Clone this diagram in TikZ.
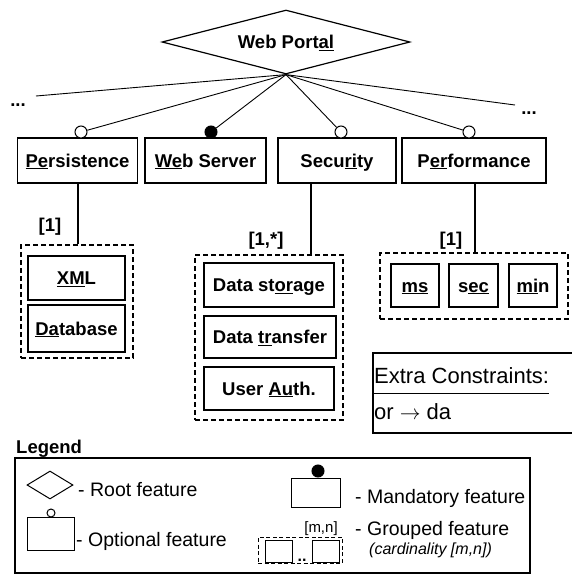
\documentclass[tikz,border=0pt]{standalone}
\usepackage{fontspec}
\setmainfont{Liberation Sans}
\usetikzlibrary{shapes.geometric,calc}
\newcommand\bfnt{\fontsize{18.5}{22}\selectfont\bfseries}
\newcommand\cfnt{\fontsize{22}{26}\selectfont}
\newcommand\lfnt{\fontsize{19.5}{23}\selectfont}
\newcommand\sfnt{\fontsize{15}{18}\selectfont}
\newcommand\ifnt{\fontsize{16}{19}\selectfont\itshape}
\begin{document}
\begin{tikzpicture}[x=1pt,y=-1pt,
  feat/.style={draw, line width=1.3pt, inner sep=0pt, font=\bfnt, text height=13.2pt, text depth=0pt},
  grp/.style={draw, dash pattern=on 5pt off 3pt, line width=1.2pt, inner sep=0pt},
  opt/.style={circle, draw, fill=white, line width=1pt, minimum size=12pt, inner sep=0pt},
  man/.style={circle, draw, fill=black, line width=1pt, minimum size=12pt, inner sep=0pt},
  fan/.style={line width=0.9pt},
  lbl/.style={font=\bfnt, inner sep=0pt, anchor=base},
  lgbox/.style={draw, line width=1pt, inner sep=0pt},
  ltxt/.style={font=\lfnt, anchor=base west, inner sep=0pt}]
\useasboundingbox (0,0) rectangle (572,574);
\clip (0,0) rectangle (572,574);
% root
\node[diamond, aspect=3.875, draw, line width=1.2pt, minimum width=248pt, minimum height=64pt, inner sep=0pt, font=\bfnt, text height=13.2pt, text depth=0pt] (root) at (286,42) {Web Port\underline{al}};
% features
\node[feat, minimum width=120pt, minimum height=45pt] (per) at (77.5,160.5) {\underline{Pe}rsistence};
\node[feat, minimum width=121pt, minimum height=45pt] (ws) at (205.5,160.5) {\underline{We}b Server};
\node[feat, minimum width=118pt, minimum height=45pt] (sec) at (337,160.5) {Secu\underline{ri}ty};
\node[feat, minimum width=144pt, minimum height=45pt] (perf) at (474,160.5) {P\underline{er}formance};
% circles
\node[opt] (cper) at (81,132) {};
\node[man] (cws) at (211,132) {};
\node[opt] (csec) at (341,132) {};
\node[opt] (cperf) at (469,132) {};
\coordinate (fl) at (36,96);
\coordinate (fr) at (515,105);
\draw[fan] (root.south) -- (fl);
\draw[fan] (root.south) -- (fr);
\draw[fan] (root.south) -- (cper);
\draw[fan] (root.south) -- (cws);
\draw[fan] (root.south) -- (csec);
\draw[fan] (root.south) -- (cperf);
\node[font=\bfnt, inner sep=0pt, anchor=base] (dl) at (18,106) {...};
\node[font=\bfnt, inner sep=0pt, anchor=base] (dr) at (529,114) {...};
% groups
\node[grp, minimum width=112pt, minimum height=113pt] (g1) at (77,301.5) {};
\node[feat, minimum width=97pt, minimum height=44pt] (xml) at (76.5,278) {\underline{XM}L};
\node[feat, minimum width=97pt, minimum height=47pt] (db) at (76.5,328.5) {\underline{Da}tabase};
\node[grp, minimum width=148pt, minimum height=165pt] (g2) at (269,337.5) {};
\node[feat, minimum width=130pt, minimum height=44pt] (ds) at (269,285) {Data st\underline{or}age};
\node[feat, minimum width=132pt, minimum height=42pt] (dt) at (270,337) {Data \underline{tr}ansfer};
\node[feat, minimum width=130pt, minimum height=43pt] (ua) at (269,388.5) {User \underline{Au}th.};
\node[grp, minimum width=188pt, minimum height=66pt] (g3) at (474,286) {};
\node[feat, minimum width=48pt, minimum height=43pt] (ms) at (415,285.5) {\underline{ms}};
\node[feat, minimum width=49pt, minimum height=43pt] (se) at (473.5,285.5) {s\underline{ec}};
\node[feat, minimum width=48pt, minimum height=43pt] (mi) at (533,285.5) {\underline{mi}n};
% drops
\coordinate (pdrop) at (78,183);
\coordinate (sdrop) at (311,183);
\coordinate (fdrop) at (475,183);
\draw[line width=1.1pt] (pdrop) -- (pdrop |- g1.north);
\draw[line width=1.1pt] (sdrop) -- (sdrop |- g2.north);
\draw[line width=1.1pt] (fdrop) -- (fdrop |- g3.north);
\node[lbl] (k1) at (50,231) {[1]};
\node[lbl] (k2) at (266,245) {[1,*]};
\node[lbl] (k3) at (451,245) {[1]};
% constraints
\node[lgbox, line width=1.2pt, minimum width=230pt, minimum height=80pt] (cbox) at (488,393) {};
\node[font=\cfnt, anchor=base west, inner sep=0pt] (c1) at (374,383.5) {Extra Constraints:};
\draw[line width=1pt] ([yshift=-9.5pt]c1.base west) -- ([yshift=-9.5pt]c1.base east);
\node[font=\cfnt, anchor=base west, inner sep=0pt] (c2) at (374,419) {or $\rightarrow$ da};
% legend
\node[font=\bfnt, anchor=base west, inner sep=0pt] (leg) at (16,453) {Legend};
\node[lgbox, line width=1.2pt, minimum width=515pt, minimum height=115pt] (lbox) at (272.5,515.5) {};
\node[diamond, draw, line width=1pt, minimum width=46pt, minimum height=28pt, inner sep=0pt] (ldia) at (50,485) {};
\node[ltxt] (t1) at (78,496) {- Root feature};
\node[lgbox, minimum width=47pt, minimum height=33pt] (lopt) at (50.5,533.5) {};
\node[circle, draw, line width=1pt, minimum size=8pt, inner sep=0pt] (lcopt) at (51,513) {};
\node[ltxt] (t2) at (76,546) {- Optional feature};
\node[lgbox, minimum width=49pt, minimum height=29pt] (lman) at (315.5,492.5) {};
\node[man] (lcman) at (318,471) {};
\node[ltxt] (t3) at (355,503) {- Mandatory feature};
\node[font=\sfnt, inner sep=0pt, anchor=base] (mn) at (321,532) {[m,n]};
\node[ltxt] (t4) at (355,535) {- Grouped feature};
\node[font=\ifnt, anchor=base west, inner sep=0pt] (t5) at (369,554) {(cardinality [m,n])};
\node[grp, line width=1pt, dash pattern=on 4pt off 2.5pt, minimum width=84pt, minimum height=26pt] (lg) at (300,550) {};
\node[lgbox, minimum width=27pt, minimum height=22pt] (lg1) at (278.5,551) {};
\node[lgbox, minimum width=27pt, minimum height=22pt] (lg2) at (325.5,551) {};
\node[font=\fontsize{16}{18}\selectfont\bfseries, inner sep=0pt, anchor=base] (ldots) at (302,561) {..};
\end{tikzpicture}
\end{document}
